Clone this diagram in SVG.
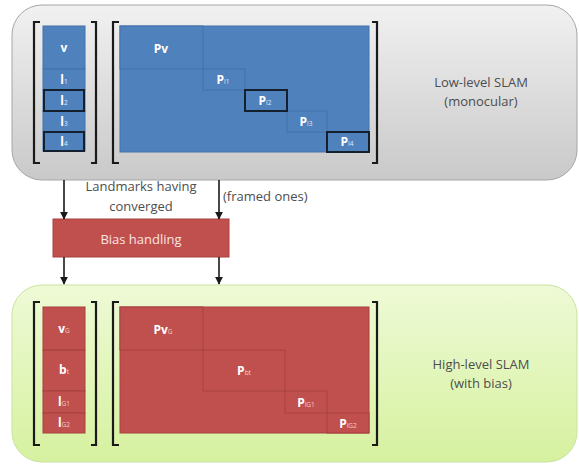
<svg xmlns="http://www.w3.org/2000/svg" width="579" height="464" viewBox="0 0 579 464">
<defs>
<linearGradient id="gGray" x1="0" y1="0" x2="0" y2="1">
<stop offset="0" stop-color="#f1f1f1"/>
<stop offset="1" stop-color="#c9c9c9"/>
</linearGradient>
<linearGradient id="gGreen" x1="0" y1="0" x2="0" y2="1">
<stop offset="0" stop-color="#eefad6"/>
<stop offset="1" stop-color="#d6f19f"/>
</linearGradient>
<marker id="ah" viewBox="0 0 10 10" refX="9" refY="5" markerWidth="8" markerHeight="8" markerUnits="userSpaceOnUse" orient="auto">
<path d="M0,0 L10,5 L0,10 z" fill="#1a1a1a"/>
</marker>
</defs>
<style>
.blue{fill:#4f81bd;stroke:#4372a8;stroke-width:1}
.red{fill:#c0504d;stroke:#a8413e;stroke-width:1}
.frame{fill:none;stroke:#15202e;stroke-width:2}
.br{fill:none;stroke:#1a1a1a;stroke-width:2.2}
.lbl{font-family:"Open Sans","Liberation Sans",sans-serif;fill:#ffffff;font-weight:bold;font-size:12px;text-anchor:middle}
.sub{font-size:6.5px;font-weight:normal;fill:#e6ecf5}
.subr{font-size:6.5px;font-weight:normal;fill:#f3cfcd}
.txt{font-family:"Open Sans","Liberation Sans",sans-serif;fill:#4d4d4d;font-size:13px;text-anchor:middle}
.conn{stroke:#1a1a1a;stroke-width:1.6;fill:none;marker-end:url(#ah)}
</style>

<g id="low-level">
<rect x="12" y="5" width="565" height="175" rx="30" ry="30" fill="url(#gGray)" stroke="#a6a6a6" stroke-width="1"/>
<path class="br" d="M40,22 H34 V163 H40"/>
<path class="br" d="M91,22 H96 V163 H91"/>
<path class="br" d="M119,22 H113 V163 H119"/>
<path class="br" d="M372,22 H377 V163 H372"/>
<rect class="blue" x="43" y="26" width="42" height="43"/>
<rect class="blue" x="43" y="69" width="42" height="21"/>
<rect class="blue" x="43" y="90" width="42" height="21"/>
<rect class="blue" x="43" y="111" width="42" height="21"/>
<rect class="blue" x="43" y="132" width="42" height="19"/>
<rect class="frame" x="44" y="90" width="40" height="21"/>
<rect class="frame" x="44" y="132" width="40" height="19"/>
<text class="lbl" x="64" y="52">v</text>
<text class="lbl" x="64" y="84">l<tspan class="sub">1</tspan></text>
<text class="lbl" x="64" y="105">l<tspan class="sub">2</tspan></text>
<text class="lbl" x="64" y="126">l<tspan class="sub">3</tspan></text>
<text class="lbl" x="64" y="146">l<tspan class="sub">4</tspan></text>
<rect class="blue" x="120" y="26" width="249" height="126"/>
<rect class="blue" x="120" y="26" width="83" height="43"/>
<rect class="blue" x="203" y="69" width="42" height="21"/>
<rect class="blue" x="245" y="90" width="42" height="21"/>
<rect class="blue" x="287" y="111" width="40" height="21"/>
<rect class="blue" x="327" y="132" width="42" height="20"/>
<rect class="frame" x="245" y="90" width="42" height="21"/>
<rect class="frame" x="327" y="132" width="42" height="20"/>
<text class="lbl" x="161" y="53">Pv</text>
<text class="lbl" x="223" y="84">P<tspan class="sub">l1</tspan></text>
<text class="lbl" x="265" y="105">P<tspan class="sub">l2</tspan></text>
<text class="lbl" x="306" y="126">P<tspan class="sub">l3</tspan></text>
<text class="lbl" x="347" y="146">P<tspan class="sub">l4</tspan></text>
<text class="txt" x="481" y="87">Low-level SLAM</text>
<text class="txt" x="481" y="106">(monocular)</text>
</g>

<g id="bias-handling">
<rect x="53" y="219" width="176" height="38" fill="#c0504d" stroke="#a8413e" stroke-width="1"/>
<text class="txt" x="141" y="244" style="fill:#fbe3e2">Bias handling</text>
</g>

<g id="high-level">
<rect x="12" y="285" width="565" height="177" rx="30" ry="30" fill="url(#gGreen)" stroke="#c9e3a0" stroke-width="1"/>
<path class="br" d="M40,302 H34 V445 H40"/>
<path class="br" d="M91,302 H96 V445 H91"/>
<path class="br" d="M119,302 H113 V445 H119"/>
<path class="br" d="M372,302 H377 V445 H372"/>
<rect class="red" x="43" y="307" width="42" height="43"/>
<rect class="red" x="43" y="350" width="42" height="41"/>
<rect class="red" x="43" y="391" width="42" height="22"/>
<rect class="red" x="43" y="413" width="42" height="20"/>
<text class="lbl" x="64" y="333">v<tspan class="subr">G</tspan></text>
<text class="lbl" x="64" y="374">b<tspan class="subr">t</tspan></text>
<text class="lbl" x="64" y="406">l<tspan class="subr">G1</tspan></text>
<text class="lbl" x="64" y="427">l<tspan class="subr">G2</tspan></text>
<rect class="red" x="120" y="307" width="249" height="126"/>
<rect class="red" x="120" y="307" width="83" height="43"/>
<rect class="red" x="203" y="350" width="82" height="41"/>
<rect class="red" x="285" y="391" width="42" height="22"/>
<rect class="red" x="327" y="413" width="42" height="20"/>
<text class="lbl" x="163" y="334">Pv<tspan class="subr">G</tspan></text>
<text class="lbl" x="244" y="375">P<tspan class="subr">bt</tspan></text>
<text class="lbl" x="306" y="407">P<tspan class="subr">lG1</tspan></text>
<text class="lbl" x="348" y="428">P<tspan class="subr">lG2</tspan></text>
<text class="txt" x="481" y="369">High-level SLAM</text>
<text class="txt" x="481" y="388">(with bias)</text>
</g>

<g id="connectors">
<line class="conn" x1="64" y1="180" x2="64" y2="219"/>
<line class="conn" x1="219" y1="180" x2="219" y2="219"/>
<line class="conn" x1="64" y1="257" x2="64" y2="284"/>
<line class="conn" x1="219" y1="257" x2="219" y2="284"/>
<text class="txt" x="141" y="191">Landmarks having</text>
<text class="txt" x="141" y="211">converged</text>
<text class="txt" x="223" y="201" style="text-anchor:start">(framed ones)</text>
</g>
</svg>
